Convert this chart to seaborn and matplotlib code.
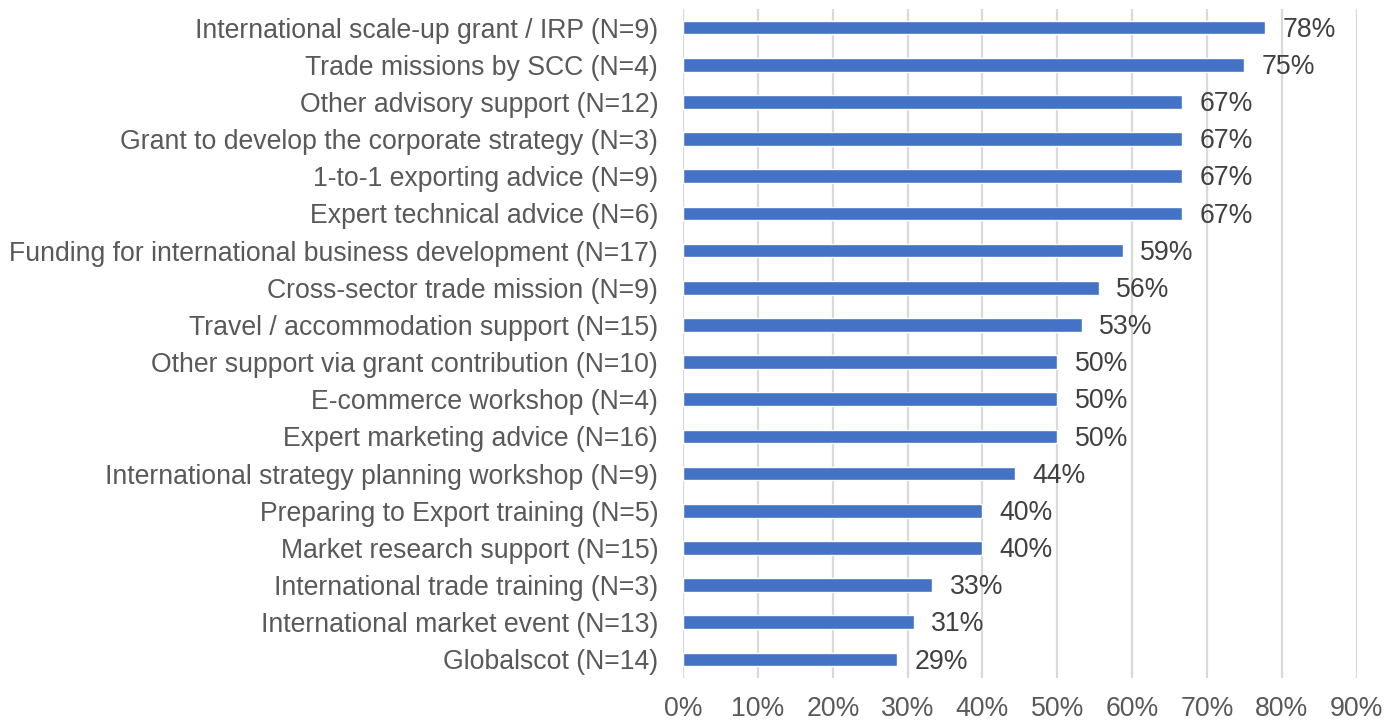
import matplotlib
matplotlib.use("Agg")
import matplotlib.pyplot as plt
import seaborn as sns
import pandas as pd

categories = [
    "International scale-up grant / IRP (N=9)",
    "Trade missions by SCC (N=4)",
    "Other advisory support (N=12)",
    "Grant to develop the corporate strategy (N=3)",
    "1-to-1 exporting advice (N=9)",
    "Expert technical advice (N=6)",
    "Funding for international business development (N=17)",
    "Cross-sector trade mission (N=9)",
    "Travel / accommodation support (N=15)",
    "Other support via grant contribution (N=10)",
    "E-commerce workshop (N=4)",
    "Expert marketing advice (N=16)",
    "International strategy planning workshop (N=9)",
    "Preparing to Export training (N=5)",
    "Market research support (N=15)",
    "International trade training (N=3)",
    "International market event (N=13)",
    "Globalscot (N=14)",
]
shares = [77.8, 75.0, 66.7, 66.7, 66.7, 66.7, 58.8, 55.6, 53.3,
          50.0, 50.0, 50.0, 44.4, 40.0, 40.0, 33.3, 30.8, 28.6]
x_ticks = [0, 10, 20, 30, 40, 50, 60, 70, 80, 90]

df = pd.DataFrame({"category": categories, "share": shares})

sns.set_theme(style="white")
plt.rcParams["font.family"] = ["Liberation Sans", "DejaVu Sans"]

fig = plt.figure(figsize=(14, 7.22), dpi=100)
ax = fig.add_axes([0.488, 0.061, 0.481, 0.9265])

sns.barplot(data=df, x="share", y="category", orient="h",
            color="#4472C4", saturation=1, width=0.37, ax=ax, zorder=3)

ax.set_xlim(0, 90)
ax.set_ylim(len(categories) - 0.5, -0.5)
ax.set_xticks(x_ticks)
ax.set_xticklabels([f"{t}%" for t in x_ticks])
ax.set_xlabel("")
ax.set_ylabel("")

for s in ax.spines.values():
    s.set_visible(False)
ax.grid(axis="x", color="#D9D9D9", linewidth=1.6, zorder=0)
ax.grid(axis="y", visible=False)
ax.set_axisbelow(True)

ax.tick_params(axis="y", length=0, pad=18, labelsize=19.2, labelcolor="#595959")
ax.tick_params(axis="x", length=0, pad=13, labelsize=19.2, labelcolor="#595959")

for i, v in enumerate(shares):
    ax.text(v + 2.3, i + 0.06, f"{v:.0f}%", va="center", ha="left",
            fontsize=19.2, color="#404040")

fig.savefig("out.png", dpi=100)
